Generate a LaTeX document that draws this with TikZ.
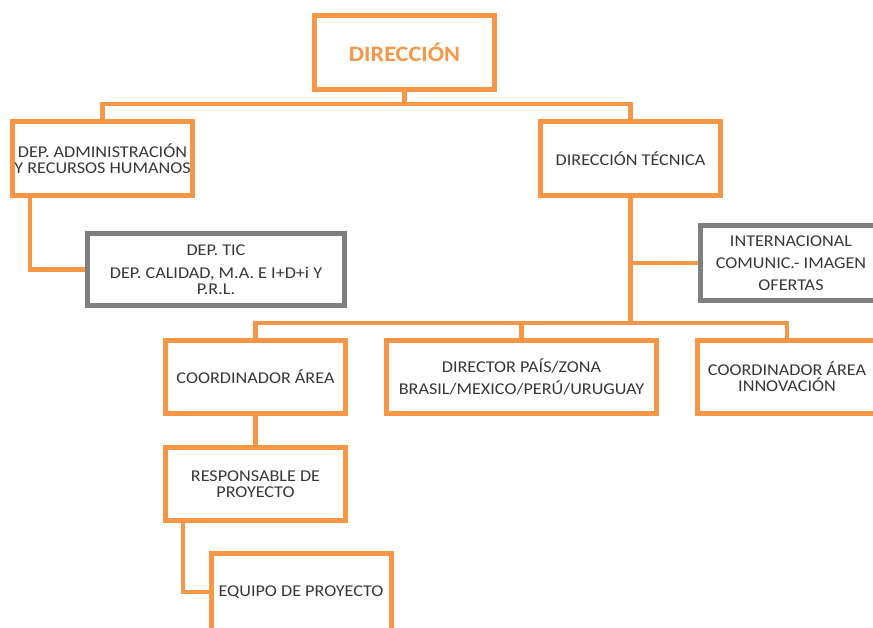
\documentclass[tikz,border=0pt]{standalone}
\usepackage{fontspec}
\setmainfont{Carlito}[FakeStretch=1.1]
\definecolor{orgorange}{RGB}{247,150,70}
\definecolor{orggray}{RGB}{127,127,127}
\definecolor{orgtext}{RGB}{55,55,55}
\tikzset{
  unitbox/.style  = {shape=rectangle, draw=orgorange, line width=5pt,
                     align=center, inner xsep=0pt, text=orgtext,
                     minimum width=180pt, minimum height=74pt,
                     font=\fontsize{16.5}{16}\selectfont},
  headbox/.style  = {unitbox, text=orgorange,
                     font=\bfseries\fontsize{22}{24}\selectfont},
  staffbox/.style = {unitbox, draw=orggray},
  link/.style     = {draw=orgorange, line width=4.5pt}
}
\begin{document}
\begin{tikzpicture}[x=1pt, y=-1pt]
  \useasboundingbox (0,0) rectangle (873,628);
  \clip (0,0) rectangle (873,628);
  % first levels
  \node [headbox] (dir) at (404.5,52.5) {DIRECCIÓN};
  \node [unitbox] (admin) at (102.5,158.5) {DEP. ADMINISTRACIÓN\\Y RECURSOS HUMANOS};
  \node [unitbox] (tec) at (630.5,158.5) {DIRECCIÓN TÉCNICA};
  \node [staffbox, minimum width=257pt, minimum height=72pt] (tic) at (216,269.5)
    {DEP. TIC\\[7.5pt]DEP. CALIDAD, M.A. E I+D+i Y\\P.R.L.};
  \node [staffbox, minimum width=181pt, minimum height=75pt] (intl) at (791,263)
    {INTERNACIONAL\\[6pt]COMUNIC.- IMAGEN\\[6pt]OFERTAS};
  % areas
  \node [unitbox, minimum height=73pt] (coord) at (255.5,377) {COORDINADOR ÁREA};
  \node [unitbox, minimum width=270pt, minimum height=73pt] (pais) at (521.5,377)
    {DIRECTOR PAÍS/ZONA\\[6pt]BRASIL/MEXICO/PERÚ/URUGUAY};
  \node [unitbox, minimum height=73pt] (innov) at (787,377) {COORDINADOR ÁREA\\INNOVACIÓN};
  \node [unitbox, minimum height=73pt] (resp) at (255.5,484) {RESPONSABLE DE\\PROYECTO};
  \node [unitbox, minimum height=78pt] (equipo) at (301,592) {EQUIPO DE PROYECTO};

  \draw [link] (dir.south) -- ++(0,12) -| (admin.north);
  \draw [link] (dir.south) -- ++(0,12) -| (tec.north);
  \draw [link] ([xshift=-72.5pt]admin.south) |- (tic.west);
  \draw [link] (tec.south) |- (intl.west);
  \draw [link] (tec.south) -- ++(0,125) -| (coord.north);
  \draw [link] (tec.south) -- ++(0,125) -| (pais.north);
  \draw [link] (tec.south) -- ++(0,125) -| (innov.north);
  \draw [link] (coord) -- (resp);
  \draw [link] ([xshift=-72.5pt]resp.south) |- (equipo.west);
\end{tikzpicture}
\end{document}
